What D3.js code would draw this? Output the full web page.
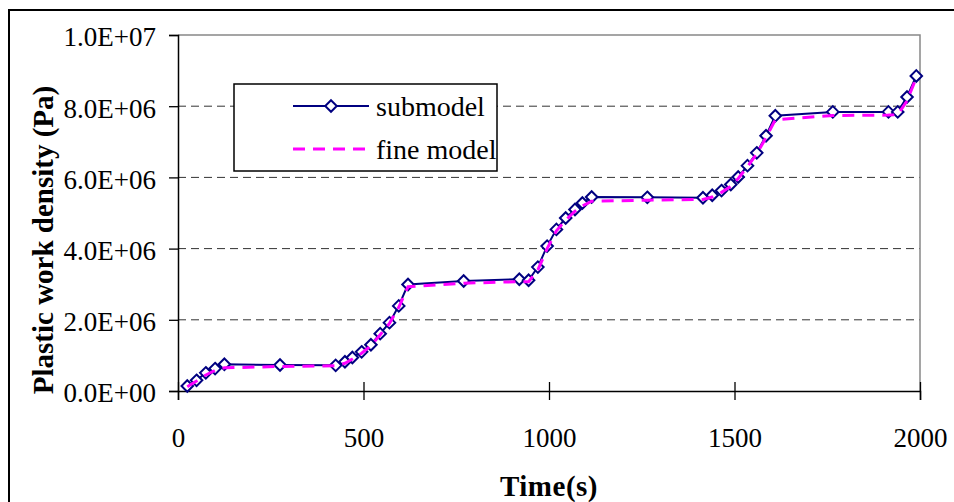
<!DOCTYPE html>
<html>
<head>
<meta charset="utf-8">
<script src="https://cdn.jsdelivr.net/npm/d3@7"></script>
<style>
  html, body { margin: 0; padding: 0; background: #fff; }
  svg { display: block; font-family: "Times New Roman", "Liberation Serif", serif; }
</style>
</head>
<body>
<div id="chart"></div>
<script>
// Values (time in s, density in Pa)
const subTimes = [25, 50, 75, 100, 125, 275, 425, 450, 470, 495, 520, 545, 570, 595, 620, 770, 920, 945, 970, 995,
  1020, 1045, 1070, 1090, 1115, 1265, 1415, 1440, 1465, 1490, 1510, 1535, 1560, 1585, 1610, 1765, 1915, 1940, 1965, 1990]
const subValues = [0.14e6, 0.30e6, 0.51e6, 0.63e6, 0.75e6, 0.73e6, 0.72e6, 0.82e6, 0.94e6, 1.10e6, 1.30e6, 1.61e6, 1.92e6,
  2.39e6, 2.99e6, 3.09e6, 3.14e6, 3.11e6, 3.48e6, 4.07e6, 4.54e6, 4.86e6, 5.10e6, 5.28e6, 5.45e6, 5.44e6, 5.43e6, 5.50e6,
  5.63e6, 5.80e6, 6.01e6, 6.33e6, 6.69e6, 7.17e6, 7.73e6, 7.84e6, 7.84e6, 7.84e6, 8.26e6, 8.85e6]

const fineTimes = subTimes
const fineValues = [0.12e6, 0.28e6, 0.45e6, 0.58e6, 0.65e6, 0.69e6, 0.71e6, 0.78e6, 0.90e6, 1.06e6, 1.27e6, 1.58e6, 1.90e6,
  2.35e6, 2.93e6, 3.03e6, 3.07e6, 3.07e6, 3.40e6, 4.00e6, 4.50e6, 4.80e6, 5.05e6, 5.20e6, 5.33e6, 5.36e6, 5.38e6, 5.45e6,
  5.58e6, 5.75e6, 5.97e6, 6.30e6, 6.66e6, 7.12e6, 7.62e6, 7.74e6, 7.75e6, 7.76e6, 8.15e6, 8.80e6]

const xTicks = [0, 500, 1000, 1500, 2000]
const yTicks = [0, 2e6, 4e6, 6e6, 8e6, 1e7]
const seriesNames = ["submodel", "fine model"]

const width = 954
const height = 502
const plot = { left: 178, right: 920, top: 35, bottom: 391 }

const svg = d3.select("#chart").append("svg")
  .attr("width", width)
  .attr("height", height)

// outer frame (runs off the page on the right and bottom)
svg.append("rect")
  .attr("x", 9).attr("y", 10)
  .attr("width", 980).attr("height", 540)
  .attr("fill", "none")
  .attr("stroke", "#000")
  .attr("stroke-width", 2)

const x = d3.scaleLinear().domain([0, 2000]).range([plot.left, plot.right])
const y = d3.scaleLinear().domain([0, 1e7]).range([plot.bottom, plot.top])

// E-notation like Excel: 8.0E+06
const fmtE = d => {
  const [m, e] = d.toExponential(1).split("e")
  return `${m}E${e[0]}${e.slice(1).padStart(2, "0")}`
}

// Gridlines
svg.append("g")
  .selectAll("line")
  .data(yTicks.filter(d => d > 0 && d < 1e7))
  .join("line")
  .attr("x1", plot.left).attr("x2", plot.right)
  .attr("y1", d => y(d)).attr("y2", d => y(d))
  .attr("stroke", "#333")
  .attr("stroke-width", 1)
  .attr("stroke-dasharray", "8,5")

// grey plot border (top / right)
svg.append("path")
  .attr("d", `M${plot.left},${plot.top}H${plot.right}V${plot.bottom}`)
  .attr("fill", "none")
  .attr("stroke", "#888")
  .attr("stroke-width", 1.5)

// Axes
const yAxis = svg.append("g")
  .attr("transform", `translate(${plot.left},0)`)
  .call(d3.axisLeft(y).tickValues(yTicks).tickFormat(fmtE).tickSize(9).tickPadding(13))
const xAxis = svg.append("g")
  .attr("transform", `translate(0,${plot.bottom})`)
  .call(d3.axisBottom(x).tickValues(xTicks).tickFormat(d3.format("d")).tickSize(9).tickPadding(28))
// inner half of the cross ticks
svg.append("g")
  .attr("transform", `translate(0,${plot.bottom})`)
  .call(d3.axisTop(x).tickValues(xTicks).tickFormat("").tickSize(9))
  .select(".domain").remove()

svg.selectAll(".tick line").attr("stroke", "#000").attr("stroke-width", 1.3)
svg.selectAll(".domain").attr("stroke", "#000").attr("stroke-width", 1.5)
yAxis.selectAll("text").attr("font-size", "27px").attr("fill", "#000").attr("dy", "0.4em")
  .attr("font-family", "'Times New Roman', 'Liberation Serif', serif")
xAxis.selectAll("text").attr("font-size", "27px").attr("fill", "#000")
  .attr("font-family", "'Times New Roman', 'Liberation Serif', serif")

// Series
const subData = subTimes.map((t, i) => [t, subValues[i]])
const fineData = fineTimes.map((t, i) => [t, fineValues[i]])
const line = d3.line().x(d => x(d[0])).y(d => y(d[1]))
const diamond = d3.symbol().type(d3.symbolDiamond2).size(85)

svg.append("path")
  .datum(subData)
  .attr("d", line)
  .attr("fill", "none")
  .attr("stroke", "#000080")
  .attr("stroke-width", 2)

svg.append("g")
  .selectAll("path")
  .data(subData)
  .join("path")
  .attr("transform", d => `translate(${x(d[0])},${y(d[1])})`)
  .attr("d", diamond)
  .attr("fill", "#fff")
  .attr("stroke", "#000080")
  .attr("stroke-width", 2)

svg.append("path")
  .datum(fineData)
  .attr("d", line)
  .attr("fill", "none")
  .attr("stroke", "#ff00ff")
  .attr("stroke-width", 3)
  .attr("stroke-dasharray", "12,8")

// Legend
const legend = svg.append("g")
legend.append("rect")
  .attr("x", 234).attr("y", 84)
  .attr("width", 263).attr("height", 87)
  .attr("fill", "#fff")
  .attr("stroke", "#000")
  .attr("stroke-width", 1.5)

legend.append("line")
  .attr("x1", 293).attr("x2", 369).attr("y1", 106).attr("y2", 106)
  .attr("stroke", "#000080").attr("stroke-width", 2)
legend.append("path")
  .attr("transform", "translate(331,106)")
  .attr("d", diamond)
  .attr("fill", "#fff")
  .attr("stroke", "#000080")
  .attr("stroke-width", 2)
legend.append("line")
  .attr("x1", 293).attr("x2", 369).attr("y1", 149).attr("y2", 149)
  .attr("stroke", "#ff00ff").attr("stroke-width", 3)
  .attr("stroke-dasharray", "12,8")

legend.selectAll("text")
  .data(seriesNames)
  .join("text")
  .attr("x", 376)
  .attr("y", (d, i) => 116 + i * 43)
  .attr("font-size", "28px")
  .attr("fill", "#000")
  .text(d => d)

// Axis titles
svg.append("text")
  .attr("transform", "translate(53,240) rotate(-90)")
  .attr("text-anchor", "middle")
  .attr("font-size", "29px")
  .attr("font-weight", "bold")
  .text("Plastic work density (Pa)")

svg.append("text")
  .attr("x", 549)
  .attr("y", 496)
  .attr("text-anchor", "middle")
  .attr("font-size", "29px")
  .attr("font-weight", "bold")
  .attr("letter-spacing", "0.5px")
  .text("Time(s)")
</script>
</body>
</html>
